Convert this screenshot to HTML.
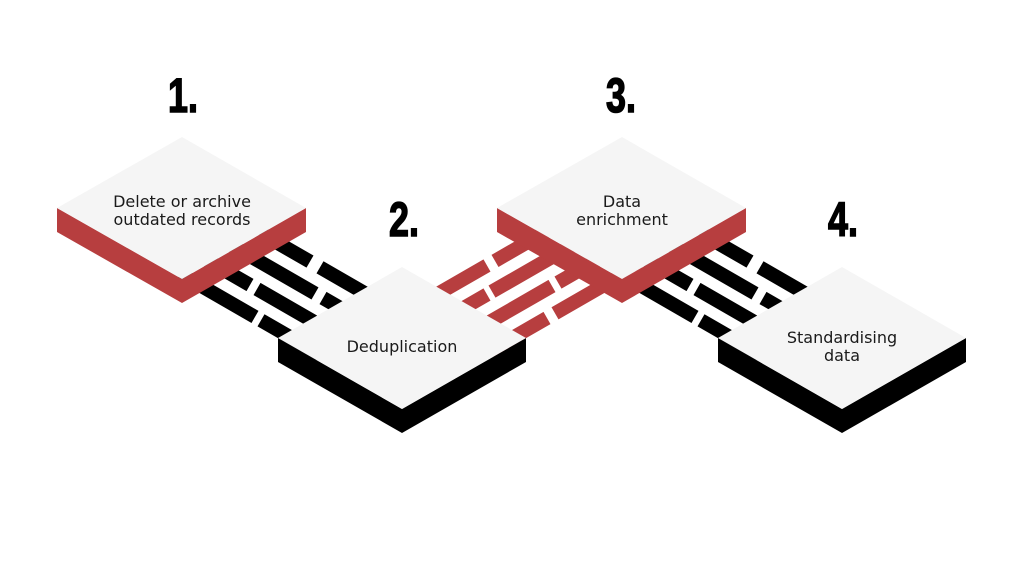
<!DOCTYPE html>
<html><head><meta charset="utf-8"><style>
html,body{margin:0;padding:0;background:#fff;}
svg{display:block;}
.lbl{font-family:"DejaVu Sans","Liberation Sans",sans-serif;font-size:16px;fill:#1a1a1a;text-anchor:middle;}
.num{font-family:"Liberation Sans Narrow","Liberation Sans",sans-serif;font-weight:bold;font-size:46px;fill:#000;stroke:#000;stroke-width:1.5;}
</style></head><body>
<svg width="1024" height="576" viewBox="0 0 1024 576" xmlns="http://www.w3.org/2000/svg">
<rect width="1024" height="576" fill="#fff"/>
<g id="br" stroke="#000" stroke-width="14" fill="none">
<path d="M260 232.8L310 261.6M320 267.3L380 301.9"/>
<path d="M230 244.5L315 293.4M323 298.0L370 325.1"/>
<path d="M200 256.2L250 285.0M257 289.0L340 336.8"/>
<path d="M180 273.7L255 316.9M261 320.3L320 354.3"/>
</g>
<use href="#br" x="440" y="0"/>
<g stroke="#b73e3f" stroke-width="14" fill="none">
<path d="M420 304.1L487 265.5M495 260.9L560 223.4"/>
<path d="M440 321.6L487 294.5M492 291.6L580 241.0"/>
<path d="M460 339.0L552 286.0M558 282.6L620 246.9"/>
<path d="M490 350.8L547 318.0M555 313.3L640 264.4"/>
</g>
<g>
<polygon points="57,208 182,279 306,208 306,232 182,303 57,232" fill="#b73e3f"/>
<polygon points="182,137 306,208 182,279 57,208" fill="#f5f5f5"/>
<polygon points="278,338 402,409 526,338 526,362 402,433 278,362" fill="#000"/>
<polygon points="402,267 526,338 402,409 278,338" fill="#f5f5f5"/>
<polygon points="497,208 622,279 746,208 746,232 622,303 497,232" fill="#b73e3f"/>
<polygon points="622,137 746,208 622,279 497,208" fill="#f5f5f5"/>
<polygon points="718,338 842,409 966,338 966,362 842,433 718,362" fill="#000"/>
<polygon points="842,267 966,338 842,409 718,338" fill="#f5f5f5"/>
</g>
<text class="lbl" x="182" y="207">Delete or archive</text>
<text class="lbl" x="182" y="225">outdated records</text>
<text class="lbl" x="402" y="352">Deduplication</text>
<text class="lbl" x="622" y="207">Data</text>
<text class="lbl" x="622" y="225">enrichment</text>
<text class="lbl" x="842" y="343">Standardising</text>
<text class="lbl" x="842" y="361">data</text>
<text class="num" x="168" y="112" transform="translate(168 112) scale(0.78 1.05) translate(-168 -112)">1.</text>
<text class="num" x="389" y="236" transform="translate(389 236) scale(0.78 1.05) translate(-389 -236)">2.</text>
<text class="num" x="606" y="112" transform="translate(606 112) scale(0.78 1.05) translate(-606 -112)">3.</text>
<text class="num" x="828" y="236" transform="translate(828 236) scale(0.78 1.05) translate(-828 -236)">4.</text>
</svg>
</body></html>
